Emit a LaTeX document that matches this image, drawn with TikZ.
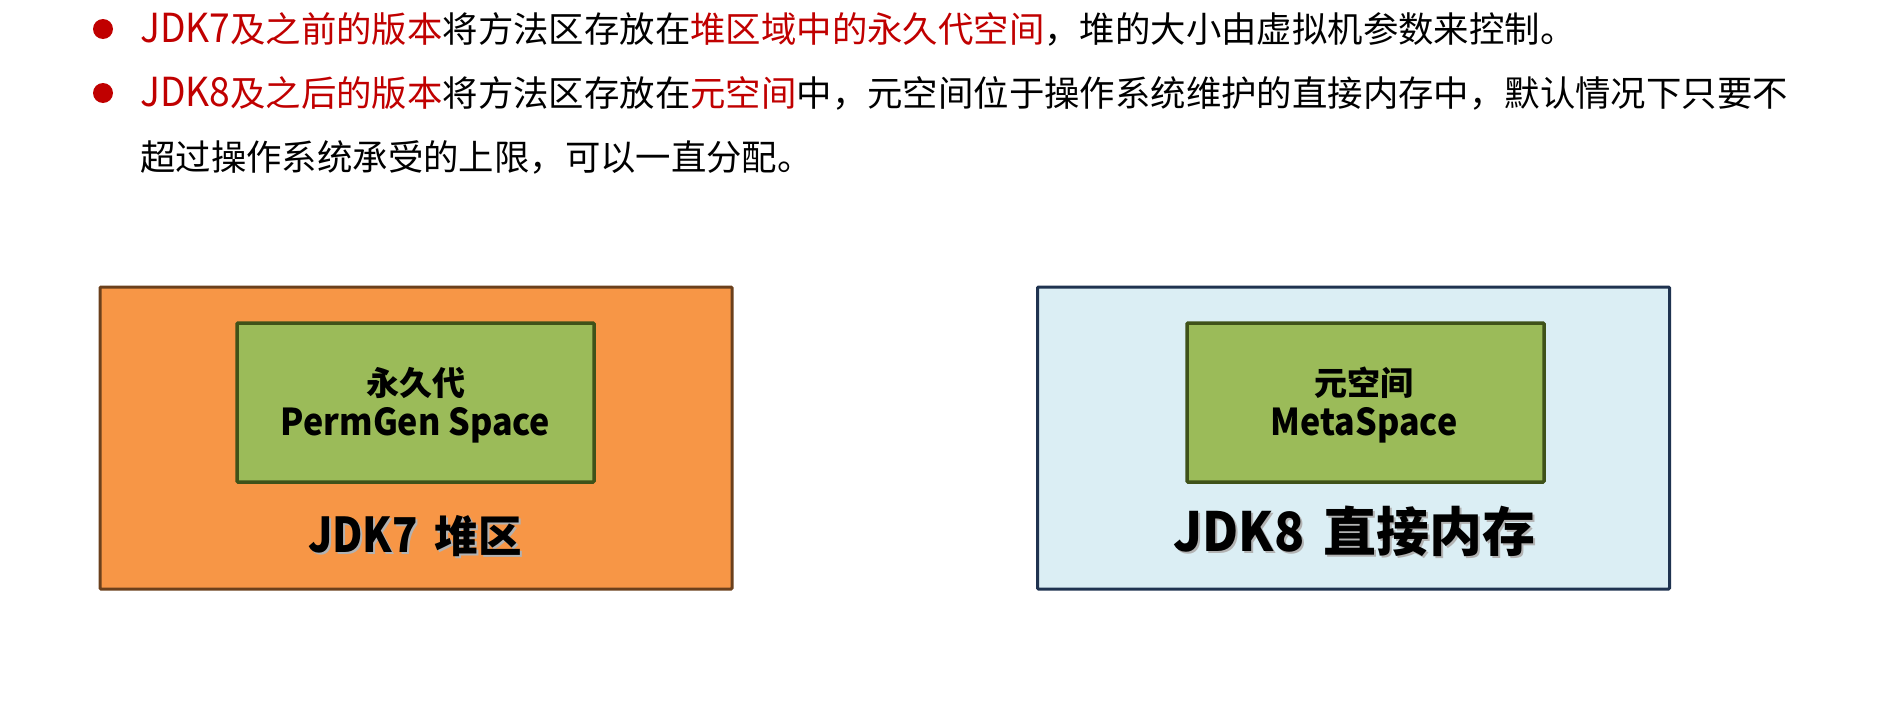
\documentclass[tikz,border=0pt]{standalone}
\usepackage{fontspec}
\setmainfont{Noto Sans CJK SC}
\definecolor{myred}{HTML}{C00000}
\definecolor{heapfill}{HTML}{F79646}
\definecolor{heapline}{HTML}{6B401C}
\definecolor{genfill}{HTML}{9BBB59}
\definecolor{genline}{HTML}{3F5219}
\definecolor{memfill}{HTML}{DBEEF4}
\definecolor{memline}{HTML}{1F3350}
\tikzset{
  bodytext/.style={anchor=base west, inner sep=0pt, font=\fontsize{35.4}{40}\selectfont},
  bulletdot/.style={circle, fill=myred, inner sep=0pt, minimum size=20pt},
  outerbox/.style={draw, line width=3pt, rounded corners=1pt, minimum width=632pt, minimum height=302pt},
  genbox/.style={draw=genline, fill=genfill, line width=3.5pt, rounded corners=1pt, minimum width=357pt, minimum height=159pt},
  gentext/.style={anchor=base, inner sep=0pt, font=\bfseries\fontsize{33}{40}\selectfont},
  bigtext/.style={anchor=base, inner sep=0pt, font=\bfseries},
  shadowtext/.style={bigtext, text=black!30},
}
\newcommand{\lat}[1]{\scalebox{0.93}[1]{\fontsize{40}{40}\selectfont #1}}
\newcommand{\genlat}[1]{\scalebox{0.92}[1]{\fontsize{37}{40}\selectfont #1}}
\newcommand{\heaplabel}{\scalebox{0.87}[1]{\fontsize{48}{50}\selectfont JDK7}\hspace{17pt}{\fontsize{43.5}{50}\selectfont 堆区}}
\newcommand{\memlabel}{\scalebox{0.92}[1]{\fontsize{54}{55}\selectfont JDK8}\hspace{19pt}{\fontsize{53}{55}\selectfont 直接内存}}
\begin{document}
\begin{tikzpicture}[x=1pt,y=-1pt]
\useasboundingbox (0,0) rectangle (1904,712);
% bullets
\node[bulletdot] (b1) at (103,29) {};
\node[bulletdot] (b2) at (103,93) {};
\node[bodytext] (l1) at (140,42) {\textcolor{myred}{\lat{JDK7}及之前的版本}将方法区存放在\textcolor{myred}{堆区域中的永久代空间}，堆的大小由虚拟机参数来控制。};
\node[bodytext] (l2) at (140,106) {\textcolor{myred}{\lat{JDK8}及之后的版本}将方法区存放在\textcolor{myred}{元空间}中，元空间位于操作系统维护的直接内存中，默认情况下只要不};
\node[bodytext] (l3) at (140,170) {超过操作系统承受的上限，可以一直分配。};
% JDK7 heap
\node[outerbox, draw=heapline, fill=heapfill] (heap) at (416,438) {};
\node[genbox] (perm) at (415.5,402.5) {};
\node[gentext] (permA) at (415.5,395) {永久代};
\node[gentext] (permB) at (415.5,435) {\genlat{PermGen Space}};
\node[shadowtext] (heapS) at (417,554) {\heaplabel};
\node[bigtext] (heapL) at (415,552) {\heaplabel};
% JDK8 direct memory
\node[outerbox, draw=memline, fill=memfill] (mem) at (1353.5,438) {};
\node[genbox] (meta) at (1365.5,402.5) {};
\node[gentext] (metaA) at (1364,395) {元空间};
\node[gentext] (metaB) at (1364,435) {\genlat{MetaSpace}};
\node[shadowtext] (memS) at (1356.5,553) {\memlabel};
\node[bigtext] (memL) at (1354.5,551) {\memlabel};
\end{tikzpicture}
\end{document}
